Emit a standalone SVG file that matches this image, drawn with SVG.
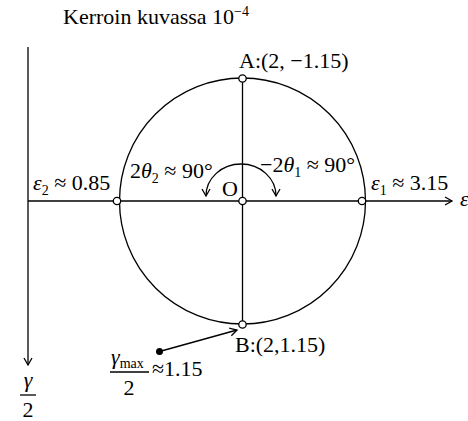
<svg xmlns="http://www.w3.org/2000/svg" width="468" height="421" viewBox="0 0 468 421">
<style>
.t{font-family:"Liberation Serif","Times New Roman",serif;font-size:22px;fill:#000}
.i{font-style:italic}
.s{font-size:14px}
.ln{stroke:#000;stroke-width:1.3;fill:none}
.pt{fill:#fff;stroke:#000;stroke-width:1.3}
</style>
<defs>
<marker id="arr" markerUnits="userSpaceOnUse" markerWidth="12" markerHeight="12" refX="8" refY="5" orient="auto-start-reverse">
<path d="M1,1 L8,5 L1,9" fill="none" stroke="#000" stroke-width="1.3"/>
</marker>
</defs>
<rect width="468" height="421" fill="#fff"/>
<g id="connectors">
<line class="ln" x1="28" y1="47" x2="28" y2="365" marker-end="url(#arr)"/>
<line class="ln" x1="28" y1="201" x2="452" y2="201" marker-end="url(#arr)"/>
<circle class="ln" cx="242.5" cy="201" r="123"/>
<line class="ln" x1="242.5" y1="78" x2="242.5" y2="325"/>
<path class="ln" d="M206,196 A35,32 0 0 1 276,196" marker-start="url(#arr)" marker-end="url(#arr)"/>
<line class="ln" x1="159.5" y1="351.5" x2="237" y2="330" marker-end="url(#arr)"/>
</g>
<g id="title"><text class="t" x="63" y="24">Kerroin kuvassa 10<tspan class="s" dy="-8">−4</tspan></text></g>
<g id="A"><circle class="pt" cx="242.5" cy="78.5" r="3.7"/><text class="t" x="239" y="68">A:(2, −1.15)</text></g>
<g id="B"><circle class="pt" cx="242.5" cy="324.5" r="3.7"/><text class="t" x="235" y="352">B:(2,1.15)</text></g>
<g id="O"><circle class="pt" cx="242.5" cy="201" r="3.7"/><text class="t" x="222" y="195.5">O</text></g>
<g id="e2"><circle class="pt" cx="117" cy="201" r="3.7"/><text class="t" x="33" y="190"><tspan class="i">ε</tspan><tspan class="s" dy="5">2</tspan><tspan dy="-5"> ≈ 0.85</tspan></text></g>
<g id="e1"><circle class="pt" cx="362" cy="201" r="3.7"/><text class="t" x="371" y="189.5"><tspan class="i">ε</tspan><tspan class="s" dy="5">1</tspan><tspan dy="-5"> ≈ 3.15</tspan></text></g>
<g id="angle2"><text class="t" x="130" y="177.5">2<tspan class="i">θ</tspan><tspan class="s" dy="5">2</tspan><tspan dy="-5"> ≈ 90°</tspan></text></g>
<g id="angle1"><text class="t" x="260" y="172">−2<tspan class="i">θ</tspan><tspan class="s" dy="5">1</tspan><tspan dy="-5"> ≈ 90°</tspan></text></g>
<g id="eaxis"><text class="t i" x="460" y="206">ε</text></g>
<g id="gaxis"><text class="t i" x="28" y="387" text-anchor="middle">γ</text><line class="ln" x1="20" y1="395" x2="36" y2="395"/><text class="t" x="28" y="417" text-anchor="middle">2</text></g>
<g id="gmax"><circle cx="159.5" cy="351.5" r="3.5" fill="#000"/><text class="t" x="111" y="364"><tspan class="i">γ</tspan><tspan class="s" dy="4">max</tspan></text><line class="ln" x1="110" y1="372" x2="149" y2="372"/><text class="t" x="129" y="395" text-anchor="middle">2</text><text class="t" x="152" y="376">≈1.15</text></g>
</svg>
